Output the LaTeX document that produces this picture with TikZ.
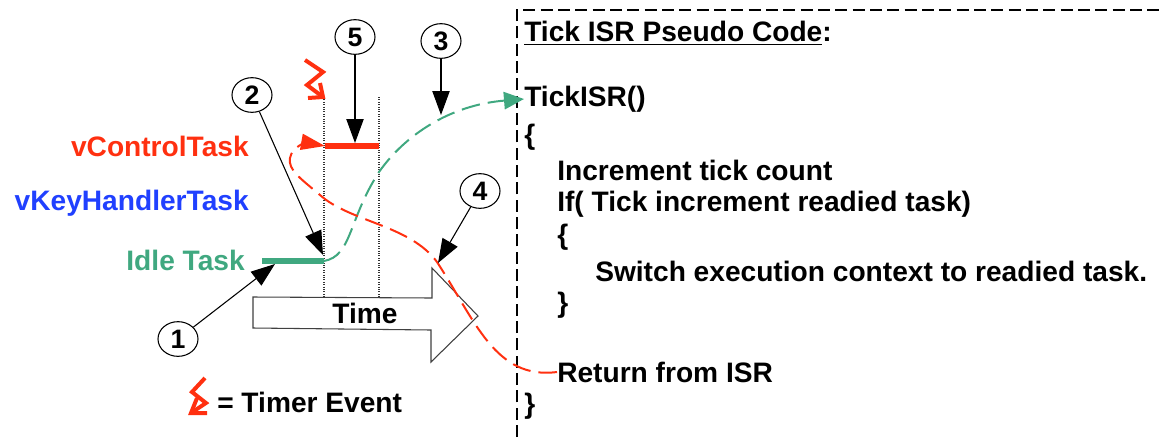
\documentclass[tikz,border=0pt]{standalone}
\usepackage{xcolor}
\usepackage{fontspec}
\setmainfont{Liberation Sans}
\usetikzlibrary{arrows.meta, shapes.geometric, positioning, calc}
\definecolor{taskred}{RGB}{255, 48, 16}
\definecolor{taskblue}{RGB}{32, 64, 255}
\definecolor{taskgreen}{RGB}{64, 168, 128}

\tikzset{
    marker/.style={draw, ellipse, thick, fill=white, minimum width=30pt, minimum height=26pt, inner sep=0pt, font=\fontsize{20}{22}\selectfont\bfseries},
    pointer/.style={draw, thick, -{Triangle[length=18pt, width=13pt]}},
    tasklabel/.style={anchor=east, inner sep=0pt, font=\fontsize{21.1}{24}\selectfont\bfseries},
    codeline/.style={anchor=west, inner sep=0pt, font=\fontsize{21.1}{24}\selectfont\bfseries},
    timeline/.style={densely dotted, thick, black!80},
    timerbolt/.style={draw=taskred, line width=3pt},
    bar/.style={line width=4pt},
    switchline/.style={line width=1.5pt, dash pattern=on 14pt off 6pt}
}

\begin{document}
\begin{tikzpicture}[x=0.75pt, y=-0.75pt]
    \useasboundingbox (0,0) rectangle (1160,437);
    % code panel
    \draw[thick, dash pattern=on 9pt off 4pt] (517,437) -- (517,10) -- (1160,10);
    \node[codeline] (title) at (524,33) {\underline{Tick ISR Pseudo Code}:};
    \node[codeline] (tickisr) at (524,99) {TickISR()};
    \node[codeline] (open) at (524,137) {\{};
    \node[codeline] (increment) at (557,170) {Increment tick count};
    \node[codeline] (ifline) at (557,204) {If( Tick increment readied task)};
    \node[codeline] (openif) at (557,237) {\{};
    \node[codeline] (switchctx) at (595,271) {Switch execution context to readied task.};
    \node[codeline] (closeif) at (557,305) {\}};
    \node[codeline] (ret) at (557,372) {Return from ISR};
    \node[codeline] (close) at (524,406) {\}};

    % time arrow
    \draw[thick, black!75, fill=white] (253,297) -- (432,298) -- (432,268) -- (478,316) -- (431,362) -- (431,330) -- (253,328) -- cycle;
    \node[font=\fontsize{21.1}{24}\selectfont\bfseries] (time) at (365,313) {Time};

    % tick lines
    \coordinate (tickA) at (324,97);
    \coordinate (tickB) at (379,97);
    \draw[timeline] (tickA) -- (324,297);
    \draw[timeline] (tickB) -- (379,297);

    % tasks
    \node[tasklabel, text=taskred] (control) at (249,146) {vControlTask};
    \node[tasklabel, text=taskblue] (keyhandler) at (249,203) {vKeyHandlerTask};
    \node[tasklabel, text=taskgreen] (idle) at (245,260) {Idle Task};
    \coordinate (controlstart) at (325,146);
    \coordinate (controlend) at (379,146);
    \coordinate (idlestart) at (262,261);
    \coordinate (idleend) at (324,261);
    \draw[bar, taskred] (controlstart) -- (controlend);
    \draw[bar, taskgreen] (idlestart) -- (idleend);

    % context switches
    \draw[switchline, taskgreen, -{Triangle[length=15pt, width=13pt]}] (idleend) .. controls (352,256) and (348,220) .. (379,172) .. controls (405,135) and (450,105) .. (tickisr.west);
    \draw[switchline, taskred, -{Triangle[length=18pt, width=12pt]}] (ret.west) .. controls (495,380) and (475,320) .. (437,262) .. controls (410,225) and (350,222) .. (320,195) .. controls (300,178) and (288,170) .. (290,158) .. controls (292,146) and (308,143) .. (controlstart);

    % numbered markers
    \node[marker] (one) at (178,339) {1};
    \node[marker] (two) at (252,95) {2};
    \node[marker] (three) at (441,41) {3};
    \node[marker] (four) at (480,191) {4};
    \node[marker] (five) at (355,37) {5};
    \coordinate (onetip) at (275,264);
    \coordinate (twotip) at (323,255);
    \coordinate (threetip) at (441,115);
    \coordinate (fourtip) at (438,263);
    \coordinate (fivetip) at (355,143);
    \draw[pointer] (one) -- (onetip);
    \draw[pointer] (two) -- (twotip);
    \draw[pointer] (three) -- (threetip);
    \draw[pointer] (four) -- (fourtip);
    \draw[pointer] (five) -- (fivetip);

    % timer events
    \draw[timerbolt] (305,60) -- (323,72) -- (307,85) -- (323,97);
    \draw[timerbolt] (308,98) -- (323,97) -- (320,83);
    \draw[timerbolt] (205,378) -- (192,392) -- (206,403) -- (191,413);
    \draw[timerbolt] (207,413) -- (191,413) -- (197,398);
    \node[codeline] (legend) at (217,402) {= Timer Event};
\end{tikzpicture}
\end{document}
